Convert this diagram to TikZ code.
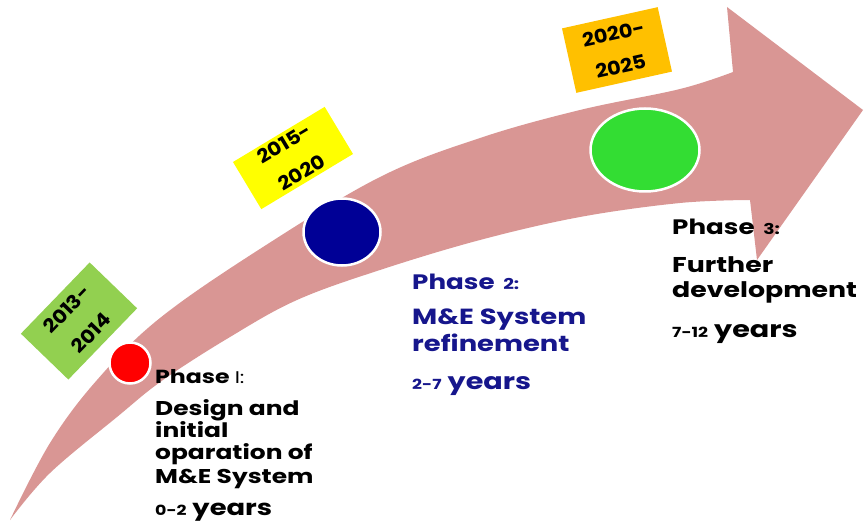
\documentclass[tikz,border=0pt]{standalone}
\usepackage{fontspec}
\usepackage{graphicx}
\setmainfont{Poppins}
\definecolor{arrowpink}{HTML}{D99694}
\definecolor{boxgreen}{HTML}{92D050}
\definecolor{boxyellow}{HTML}{FFFF00}
\definecolor{boxorange}{HTML}{FFC000}
\definecolor{dotred}{HTML}{FF0000}
\definecolor{dotblue}{HTML}{000096}
\definecolor{dotgreen}{HTML}{33DD33}
\definecolor{phaseblue}{HTML}{16168C}
\newcommand\widen[1]{\scalebox{1.25}[1]{#1}}
\newcommand\fsz[1]{\fontsize{#1}{#1}\selectfont}
\tikzset{
  yearbox/.style={align=center, inner sep=0pt, font=\bfseries\fontsize{19}{34}\selectfont, text=black},
  dot/.style={draw=white, line width=2.5bp},
  ptext/.style={anchor=base west, inner sep=0pt, font=\bfseries\fsz{20}}
}
\begin{document}
\begin{tikzpicture}[x=1bp,y=-1bp]
\useasboundingbox (0,0) rectangle (864,526);
% arrow
\fill[arrowpink] plot[smooth, tension=0.6] coordinates {(10,520) (50,443) (97,380) (160,318) (263,247) (380,177) (480,138) (580,110) (680,89) (733,72)}
  -- (727,7) -- (863,110) -- (757,260) --
  plot[smooth, tension=0.6] coordinates {(750,200) (680,203) (580,217) (480,240) (380,270) (297,300) (230,337) (163,380) (117,417) (50,473) (10,520)} -- cycle;
% year boxes
\node[yearbox, fill=boxgreen, minimum width=99bp, minimum height=66bp, rotate=46] (y1) at (79,321) {\scalebox{1.1}[1]{2013-}\\\scalebox{1.1}[1]{2014}};
\node[yearbox, fill=boxyellow, minimum width=107bp, minimum height=55bp, rotate=31] (y2) at (293,158) {\scalebox{1.1}[1]{2015-}\\\scalebox{1.1}[1]{2020}};
\node[yearbox, fill=boxorange, minimum width=98bp, minimum height=66bp, rotate=12.5] (y3) at (617,50) {\scalebox{1.1}[1]{2020-}\\\scalebox{1.1}[1]{2025}};
% dots
\filldraw[dot, fill=dotred] (130,363) ellipse [x radius=20.5, y radius=20.5];
\filldraw[dot, fill=dotblue] (342,232) ellipse [x radius=38.5, y radius=33.5];
\filldraw[dot, fill=dotgreen] (645,150) ellipse [x radius=54.5, y radius=41.5];
% phase 1
\node[ptext, font=\bfseries\fsz{19}] (p1h) at (155,383) {\widen{Phase {\mdseries\fsz{17}I:}}};
\node[ptext] (p1a) at (155,415) {\widen{Design and}};
\node[ptext] (p1b) at (155,437) {\widen{initial}};
\node[ptext] (p1c) at (155,459) {\widen{oparation of}};
\node[ptext] (p1d) at (155,483) {\widen{M\&E System}};
\node[ptext, font=\bfseries\fsz{22}] (p1y) at (155,515) {\widen{{\fsz{14}0-2} years}};
% phase 2
\begin{scope}[every node/.append style={text=phaseblue}]
\node[ptext, font=\bfseries\fsz{21}] (p2h) at (412,290) {\widen{Phase {\fsz{15}\,2:}}};
\node[ptext, font=\bfseries\fsz{22}] (p2a) at (412,325) {\widen{M\&E System}};
\node[ptext, font=\bfseries\fsz{22}] (p2b) at (412,351) {\widen{refinement}};
\node[ptext, font=\bfseries\fsz{23}] (p2y) at (412,389) {\widen{{\fsz{14}2-7} years}};
\end{scope}
% phase 3
\node[ptext, font=\bfseries\fsz{21}] (p3h) at (672,235) {\widen{Phase {\fsz{15}\,3:}}};
\node[ptext, font=\bfseries\fsz{21.5}] (p3a) at (672,273) {\widen{Further}};
\node[ptext, font=\bfseries\fsz{21.5}] (p3b) at (672,298) {\widen{development}};
\node[ptext, font=\bfseries\fsz{23}] (p3y) at (672,338) {\widen{{\fsz{14}7-12} years}};
\end{tikzpicture}
\end{document}
